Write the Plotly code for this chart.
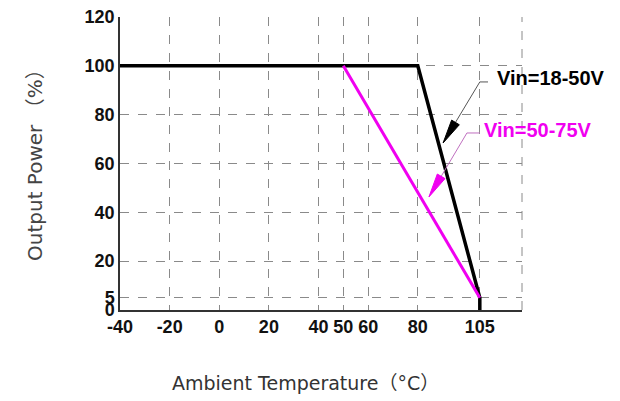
import math
import plotly.graph_objects as go

# Data
x_ticks = [-40, -20, 0, 20, 40, 50, 60, 80, 105]
y_ticks = [0, 5, 20, 40, 60, 80, 100, 120]
vin_low_x = [-40, 80, 105, 105]
vin_low_y = [100, 100, 5, 0]
vin_high_x = [50, 105]
vin_high_y = [100, 5]
label_low = "Vin=18-50V"
label_high = "Vin=50-75V"

BLACK = "#000000"
MAGENTA = "#f000f0"
TICKFONT = dict(family="Liberation Sans, Arial, sans-serif", size=18, color="#111111")

X_RANGE = [-40, 122]
Y_RANGE = [0, 120]
PLOT_W, PLOT_H = 402, 293

fig = go.Figure()
fig.add_trace(go.Scatter(x=vin_low_x, y=vin_low_y, mode="lines",
                         line=dict(color=BLACK, width=3.5), showlegend=False, hoverinfo="skip"))
fig.add_trace(go.Scatter(x=vin_high_x, y=vin_high_y, mode="lines",
                         line=dict(color=MAGENTA, width=3), showlegend=False, hoverinfo="skip"))

# page body has an 8px margin, so the figure is sized to fit the window
fig.update_layout(
    width=612, height=393,
    margin=dict(l=112, r=98, t=9, b=91),
    paper_bgcolor="white", plot_bgcolor="white",
    showlegend=False,
)
fig.update_xaxes(
    range=X_RANGE, tickvals=x_ticks, ticktext=[f"<b>{v}</b>" for v in x_ticks],
    tickfont=TICKFONT, showgrid=True, gridcolor="#8a8a8a", gridwidth=1, griddash="dash",
    showline=True, linecolor="#333333", linewidth=1.5, zeroline=False, ticks="", ticklen=0,
    automargin=False, ticklabeloverflow="allow",
)
fig.update_yaxes(
    range=Y_RANGE, tickvals=y_ticks, ticktext=[f"<b>{v}</b>" for v in y_ticks],
    tickfont=TICKFONT, showgrid=True, gridcolor="#8a8a8a", gridwidth=1, griddash="dash",
    showline=True, linecolor="#333333", linewidth=1.5, zeroline=False, ticks="", ticklen=0,
    automargin=False, ticklabeloverflow="allow",
)
# right edge dashed
fig.add_shape(type="line", xref="paper", yref="paper", x0=1, x1=1, y0=0, y1=1,
              line=dict(color="#8a8a8a", width=1, dash="dash"))

# Axis titles
TITLEFONT = "DejaVu Sans, Noto Sans CJK SC, sans-serif"
fig.add_annotation(text="Ambient Temperature（°C）", xref="paper", yref="paper",
                   x=(305 - 120) / 402, y=-(383 - 310) / 293, showarrow=False,
                   xanchor="center", yanchor="middle",
                   font=dict(family=TITLEFONT, size=19, color="#333333"))
fig.add_annotation(text="Output Power （%）", xref="paper", yref="paper", textangle=-90,
                   x=-(120 - 35) / 402, y=(310 - 160) / 293, showarrow=False,
                   xanchor="center", yanchor="middle",
                   font=dict(family=TITLEFONT, size=20, color="#444444"))

# Labels
LBLFONT = "Liberation Sans, Arial, sans-serif"
fig.add_annotation(text=f"<b>{label_low}</b>", xref="x", yref="y", x=111, y=95, xanchor="left",
                   showarrow=False, font=dict(family=LBLFONT, size=20, color=BLACK))
fig.add_annotation(text=f"<b>{label_high}</b>", xref="x", yref="y", x=106, y=73.7, xanchor="left",
                   showarrow=False, font=dict(family=LBLFONT, size=20, color=MAGENTA))

# pointer: leader line with a slender filled wedge head
sx = PLOT_W / (X_RANGE[1] - X_RANGE[0])
sy = PLOT_H / (Y_RANGE[1] - Y_RANGE[0])


def pointer(start, elbow, tip, line_color, head_color, length=24, half=4.5):
    # unit direction in pixel space from elbow to tip
    dx = (tip[0] - elbow[0]) * sx
    dy = (tip[1] - elbow[1]) * sy
    n = math.hypot(dx, dy)
    ux, uy = dx / n, dy / n
    bx = tip[0] - ux * length / sx
    by = tip[1] - uy * length / sy
    px, py = -uy, ux
    p1 = (bx + px * half / sx, by + py * half / sy)
    p2 = (bx - px * half / sx, by - py * half / sy)
    fig.add_shape(type="path", xref="x", yref="y",
                  path=f"M{start[0]},{start[1]} L{elbow[0]},{elbow[1]} L{bx},{by}",
                  line=dict(color=line_color, width=1))
    fig.add_shape(type="path", xref="x", yref="y",
                  path=f"M{tip[0]},{tip[1]} L{p1[0]},{p1[1]} L{p2[0]},{p2[1]} Z",
                  line=dict(color=head_color, width=1), fillcolor=head_color)


pointer((108.3, 93.4), (105, 93.4), (90.2, 68.4), "#555555", BLACK)
pointer((105, 72.5), (99.8, 72.5), (84.5, 46.3), "#c070c0", MAGENTA)

fig.write_html("out.html")
